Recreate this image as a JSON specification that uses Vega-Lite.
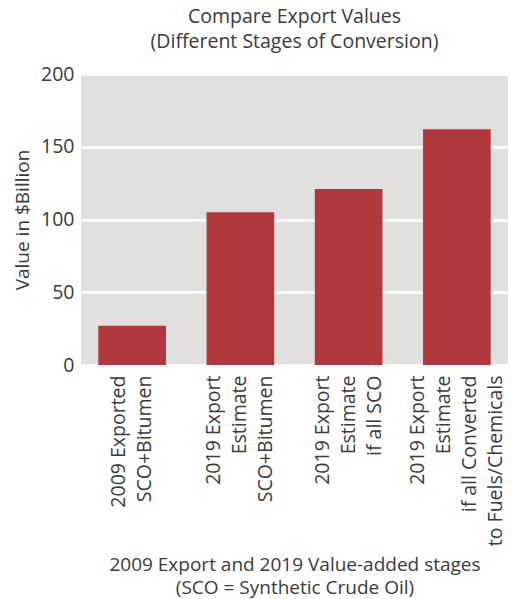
{
  "$schema": "https://vega.github.io/schema/vega-lite/v6.json",
  "width": 427,
  "height": 291,
  "padding": {"left": 13, "top": 6, "right": 3, "bottom": 2},
  "background": "white",
  "title": {
    "text": ["Compare Export Values", "(Different Stages of Conversion)"],
    "font": "Open Sans",
    "fontSize": 19.5,
    "fontWeight": "normal",
    "color": "#3a3a3a",
    "lineHeight": 25,
    "offset": 12,
    "anchor": "middle"
  },
  "config": {
    "view": {"fill": "#e1e0df", "stroke": null},
    "font": "Open Sans",
    "axis": {
      "labelFont": "Open Sans",
      "titleFont": "Open Sans",
      "labelColor": "#3a3a3a",
      "titleColor": "#3a3a3a",
      "titleFontWeight": "normal",
      "domain": false,
      "ticks": false
    }
  },
  "data": {
    "values": [
      {"stage": "2009 Exported|SCO+Bitumen", "value": 27},
      {"stage": "2019 Export|Estimate|SCO+Bitumen", "value": 105},
      {"stage": "2019 Export|Estimate|if all SCO", "value": 121},
      {"stage": "2019 Export|Estimate|if all Converted|to Fuels/Chemicals", "value": 162}
    ]
  },
  "mark": {"type": "bar", "color": "#b0383d"},
  "encoding": {
    "x": {
      "field": "stage",
      "type": "nominal",
      "sort": null,
      "scale": {"paddingInner": 0.375, "paddingOuter": 0.16},
      "axis": {
        "title": ["2009 Export and 2019 Value-added stages", "(SCO = Synthetic Crude Oil)"],
        "titleFontSize": 19,
        "titleLineHeight": 23,
        "labelExpr": "split(datum.label, '|')",
        "labelAngle": -90,
        "labelFontSize": 19.5,
        "labelLineHeight": 26,
        "labelPadding": 10,
        "labelLimit": 300,
        "labelOffset": {
          "condition": [
            {"test": "indexof(datum.value, 'Converted') >= 0", "value": -39},
            {"test": "indexof(datum.value, '2009') >= 0", "value": -13}
          ],
          "value": -26
        },
        "titlePadding": 10,
        "grid": false
      }
    },
    "y": {
      "field": "value",
      "type": "quantitative",
      "scale": {"domain": [0, 200]},
      "axis": {
        "title": "Value in $Billion",
        "titleFontSize": 19,
        "titlePadding": 8,
        "values": [0, 50, 100, 150, 200],
        "labelFontSize": 19.5,
        "labelPadding": 7,
        "gridColor": "white",
        "gridWidth": 2.5
      }
    }
  }
}
